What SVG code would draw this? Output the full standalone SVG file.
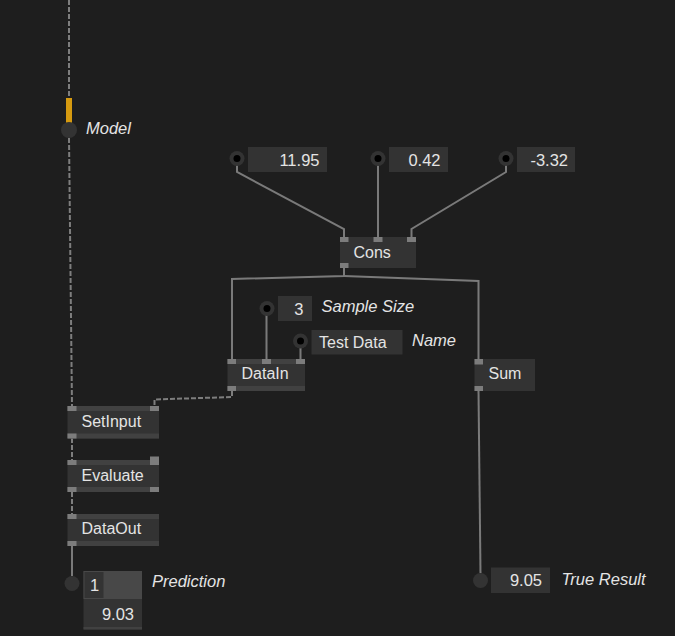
<svg xmlns="http://www.w3.org/2000/svg" width="675" height="636" viewBox="0 0 675 636">
<style>
.t{font-family:"Liberation Sans",Arial,sans-serif;font-size:16px;fill:#e4e4e4}
.n{font-family:"Liberation Sans",Arial,sans-serif;font-size:16.5px;fill:#e4e4e4}
.l{font-family:"Liberation Sans",Arial,sans-serif;font-size:16.5px;font-style:italic;fill:#e4e4e4}
.body{fill:#333333}
.strip{fill:#414141}
.pin{fill:#7c7c7c}
.box{fill:#333333}
.w{fill:none;stroke:#7a7a7a;stroke-width:2}
.d{fill:none;stroke:#7e7e7e;stroke-width:2;stroke-dasharray:5,2}
.ring{fill:#333333}
.dot{fill:#000}
</style>
<rect width="675" height="636" fill="#1e1e1e"/>
<g id="connectors">
<path class="d" d="M69,0 V98"/>
<path class="d" d="M69,138 L72,406"/>
<path class="d" d="M72,438 V460"/>
<path class="d" d="M72,492 V514"/>
<path class="d" d="M232,391 V397 L154.5,399.5 V406"/>
<path class="w" d="M72,546 V576"/>
<path class="w" d="M237,165 V172 L344,229 V237"/>
<path class="w" d="M378,165 V237"/>
<path class="w" d="M506,165 V172 L411.5,229 V237"/>
<path class="w" d="M344,268 V276 L232,279 V359"/>
<path class="w" d="M344,276 L478.5,281 V359"/>
<path class="w" d="M266.5,315 V359"/>
<path class="w" d="M300.5,348 V359"/>
<path class="w" d="M478.5,391 L480.5,573"/>
</g>
<g id="model">
<rect x="66" y="98" width="6" height="25" fill="#d69a10"/>
<circle cx="69" cy="130" r="8" class="ring"/>
<text class="l" x="86" y="134">Model</text>
</g>
<g id="in-11-95">
<circle cx="237" cy="158.5" r="7.5" class="ring"/>
<circle cx="237" cy="158.5" r="3.5" class="dot"/>
<rect x="248" y="147" width="79" height="25" class="box"/>
<text class="n" x="319.5" y="165.5" text-anchor="end">11.95</text>
</g>
<g id="in-0-42">
<circle cx="378" cy="158.5" r="7.5" class="ring"/>
<circle cx="378" cy="158.5" r="3.5" class="dot"/>
<rect x="389" y="147" width="59" height="25" class="box"/>
<text class="n" x="440.5" y="165.5" text-anchor="end">0.42</text>
</g>
<g id="in-neg-3-32">
<circle cx="506" cy="158.5" r="7.5" class="ring"/>
<circle cx="506" cy="158.5" r="3.5" class="dot"/>
<rect x="517" y="147" width="58" height="25" class="box"/>
<text class="n" x="568" y="165.5" text-anchor="end">-3.32</text>
</g>
<g id="cons">
<rect x="340" y="237" width="76" height="31" class="body"/>
<rect x="340" y="237" width="8.5" height="5" class="pin"/>
<rect x="373.5" y="237" width="9" height="5" class="pin"/>
<rect x="407" y="237" width="9" height="5" class="pin"/>
<rect x="340" y="263" width="8.5" height="5" class="pin"/>
<text class="t" x="353.5" y="257.5">Cons</text>
</g>
<g id="sample-size">
<circle cx="267" cy="308.5" r="7.5" class="ring"/>
<circle cx="267" cy="308.5" r="3.5" class="dot"/>
<rect x="278" y="296" width="34" height="25" class="box"/>
<text class="n" x="303.5" y="314.5" text-anchor="end">3</text>
<text class="l" x="321.5" y="312">Sample Size</text>
</g>
<g id="name">
<circle cx="300.5" cy="341" r="7.5" class="ring"/>
<circle cx="300.5" cy="341" r="3.5" class="dot"/>
<rect x="311.5" y="330" width="91" height="24.5" class="box"/>
<text class="t" x="319" y="347.5">Test Data</text>
<text class="l" x="412" y="345.5">Name</text>
</g>
<g id="datain">
<rect x="227.5" y="359" width="77.5" height="32" class="body"/>
<rect x="227.5" y="359" width="77.5" height="5" class="strip"/>
<rect x="227.5" y="386" width="77.5" height="5" class="strip"/>
<rect x="227.5" y="359" width="8.5" height="5" class="pin"/>
<rect x="262" y="359" width="9" height="5" class="pin"/>
<rect x="296" y="359" width="9" height="5" class="pin"/>
<rect x="227.5" y="386" width="8.5" height="5" class="pin"/>
<text class="t" x="241.5" y="378.5">DataIn</text>
</g>
<g id="sum">
<rect x="474.5" y="359" width="60.5" height="32" class="body"/>
<rect x="474.5" y="359" width="8.5" height="5.5" class="pin"/>
<rect x="474.5" y="386" width="8.5" height="5" class="pin"/>
<text class="t" x="488.5" y="379">Sum</text>
</g>
<g id="setinput">
<rect x="67.5" y="406" width="91.5" height="32.5" class="body"/>
<rect x="67.5" y="406" width="91.5" height="5" class="strip"/>
<rect x="67.5" y="433.5" width="91.5" height="5" class="strip"/>
<rect x="67.5" y="406" width="9" height="5" class="pin"/>
<rect x="150" y="406" width="9" height="5" class="pin"/>
<rect x="67.5" y="433.5" width="9" height="5" class="pin"/>
<text class="t" x="81.5" y="427">SetInput</text>
</g>
<g id="evaluate">
<rect x="67.5" y="460" width="91.5" height="32" class="body"/>
<rect x="67.5" y="460" width="91.5" height="5" class="strip"/>
<rect x="67.5" y="487" width="91.5" height="5" class="strip"/>
<rect x="67.5" y="460" width="9" height="5" class="pin"/>
<rect x="150" y="456.5" width="9" height="8.5" class="pin"/>
<rect x="67.5" y="487" width="9" height="5" class="pin"/>
<rect x="150" y="487" width="9" height="5" class="pin"/>
<text class="t" x="81.5" y="480.5">Evaluate</text>
</g>
<g id="dataout">
<rect x="67.5" y="514" width="91.5" height="32" class="body"/>
<rect x="67.5" y="514" width="91.5" height="5" class="strip"/>
<rect x="67.5" y="541" width="91.5" height="5" class="strip"/>
<rect x="67.5" y="514" width="9" height="5" class="pin"/>
<rect x="67.5" y="541" width="9" height="5" class="pin"/>
<text class="t" x="81.5" y="534">DataOut</text>
</g>
<g id="prediction">
<circle cx="72" cy="583.5" r="7.5" class="ring"/>
<rect x="83.5" y="571" width="58.5" height="58.5" fill="#333333"/>
<rect x="83.5" y="571" width="58.5" height="28" fill="#484848"/>
<rect x="84.5" y="572" width="19" height="26" fill="#333333"/>
<rect x="83.5" y="627" width="58.5" height="2.5" fill="#414141"/>
<text class="n" x="90" y="590.5">1</text>
<text class="n" x="134" y="619.5" text-anchor="end">9.03</text>
<text class="l" x="152" y="587">Prediction</text>
</g>
<g id="true-result">
<circle cx="480.5" cy="580.5" r="7.5" class="ring"/>
<rect x="491" y="567.5" width="59" height="25.5" class="box"/>
<text class="n" x="542" y="585.5" text-anchor="end">9.05</text>
<text class="l" x="561.5" y="585">True Result</text>
</g>
</svg>
